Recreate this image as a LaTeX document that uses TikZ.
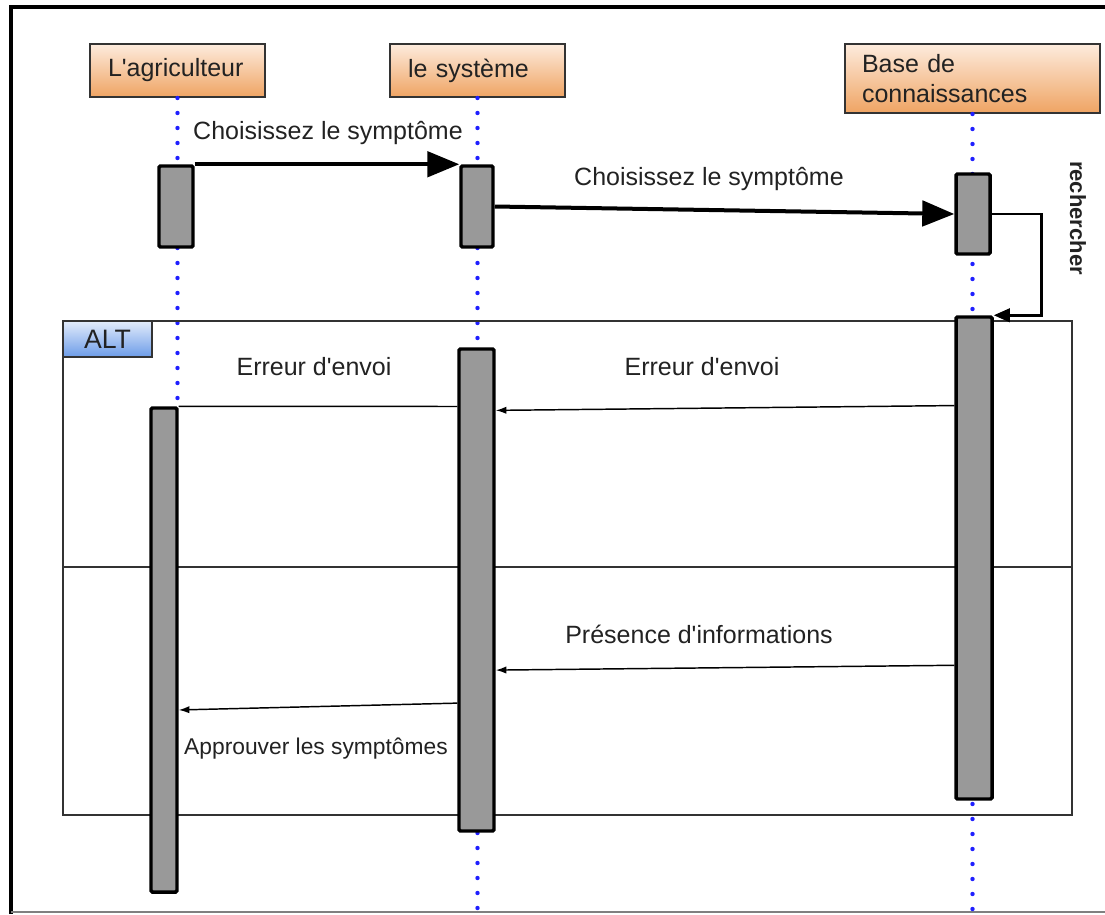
\documentclass[tikz,border=0pt]{standalone}
\usepackage{fontspec}
\setmainfont{Liberation Sans}
\usetikzlibrary{arrows.meta,calc}
\newcommand\pxu{0.75pt}
\newcommand\apo{\textquotesingle}
\definecolor{actortop}{HTML}{FDEBDD}
\definecolor{actorbot}{HTML}{EFA463}
\definecolor{alttop}{HTML}{E3ECFB}
\definecolor{altbot}{HTML}{6C9CE8}
\definecolor{lifeblue}{HTML}{1F1FFF}
\definecolor{actgray}{HTML}{999999}
\definecolor{framegray}{HTML}{333333}
\definecolor{inkgray}{HTML}{222222}
\begin{document}
\begin{tikzpicture}[x=0.75pt,y=-0.75pt,
  font=\fontsize{18.75}{22.5}\selectfont, text=inkgray,
  actor/.style n args={3}{draw=framegray, line width=1.5pt,
    top color=actortop, bottom color=actorbot, inner ysep=0pt,
    inner xsep=13pt, align=left, text width=#1*\pxu,
    minimum width=#2*\pxu, minimum height=#3*\pxu},
  activation/.style n args={2}{draw=black, fill=actgray, line width=2.6pt,
    rounded corners=1pt, inner sep=0pt,
    minimum width=#1*\pxu, minimum height=#2*\pxu},
  lifeline/.style={draw=lifeblue, line width=3.3pt, line cap=round,
    dash pattern=on 0pt off 11.25pt},
  bigmsg/.style={line width=3pt, -{Triangle[length=24pt,width=19pt]}},
  smallmsg/.style={line width=1.1pt, -{Latex[length=8pt,width=5.5pt]}},
  plainmsg/.style={line width=1.1pt},
  msglabel/.style={inner sep=0pt}]

% page extent
\useasboundingbox (0,0) rectangle (1105,914);

% outer frame
\draw[line width=3pt] (11,914) -- (11,7) -- (1105,7);
\draw[line width=1.5pt, draw=gray] (11,912) -- (1105,912);

% participants
\node[actor={139}{175}{53}] (ag) at (177.5,70.5) {L\apo agriculteur};
\node[actor={139}{175}{53}] (sys) at (477.5,70.5) {le système};
\node[actor={221}{255}{69}] (kb) at (972.5,78.5) {Base de\\connaissances};

% activations (positions only; drawn later on top of the lifelines)
\path (176,206.5) coordinate (a1c) (477,206.5) coordinate (s1c)
      (973,214) coordinate (b1c) (974,558) coordinate (b2c)
      (476.5,590) coordinate (s2c) (164,650) coordinate (a2c);

% lifelines
\draw[lifeline] (ag.south) -- (ag.south |- 0,407);
\draw[lifeline] (sys.south) -- (sys.south |- 0,910);
\draw[lifeline] (kb.south) -- (kb.south |- 0,910);

% combined fragment
\node[draw=framegray, line width=1.2pt, minimum width=1009*\pxu,
  minimum height=494*\pxu, inner sep=0pt] (alt) at (567.5,568) {};
\draw[draw=framegray, line width=1.2pt]
  ($(alt.north west)!0.498!(alt.south west)$) coordinate (sepl)
  -- ($(alt.north east)!0.498!(alt.south east)$) coordinate (sepr);
\node[draw=framegray, line width=1.2pt, top color=alttop, bottom color=altbot,
  minimum width=89*\pxu, minimum height=36*\pxu, inner sep=0pt,
  font=\fontsize{20}{24}\selectfont,
  anchor=north west] (alttab) at (alt.north west) {ALT};

% activation bars
\node[activation={34}{81}] (a1) at (a1c) {};
\node[activation={32}{81}] (s1) at (s1c) {};
\node[activation={34}{80}] (b1) at (b1c) {};
\node[activation={36}{482}] (b2) at (b2c) {};
\node[activation={35}{482}] (s2) at (s2c) {};
\node[activation={26}{484}] (a2) at (a2c) {};

% messages
\draw[bigmsg] (a1.north east) -- (s1.north west);
\node[msglabel] (m1) at (328,133) {Choisissez le symptôme};

\draw[bigmsg] (s1.east) -- (b1.west);
\node[msglabel] (m2) at (709,179) {Choisissez le symptôme};

\draw[line width=2pt, -{Triangle[length=12pt,width=10pt]}]
  (b1.east) -- ++(50,0) |- (b2.north east);
\node[msglabel, rotate=-90, font=\fontsize{16.5}{20}\selectfont\bfseries]
  (m3) at (1078,218) {rechercher};

\draw[smallmsg] ($(b2.north west)!0.186!(b2.south west)$)
  -- ($(s2.north east)!0.130!(s2.south east)$);
\node[msglabel] (m4) at (702,367) {Erreur d\apo envoi};

\draw[plainmsg] ($(s2.north west)!0.122!(s2.south west)$) -- (a2.north east);
\node[msglabel] (m5) at (314,367) {Erreur d\apo envoi};

\draw[smallmsg] ($(b2.north west)!0.721!(b2.south west)$)
  -- ($(s2.north east)!0.665!(s2.south east)$);
\node[msglabel] (m6) at (699,634) {Présence d\apo informations};

\draw[smallmsg] ($(s2.north west)!0.733!(s2.south west)$)
  -- ($(a2.north east)!0.623!(a2.south east)$);
\node[msglabel, font=\fontsize{17.1}{20}\selectfont] (m7) at (316,749)
  {Approuver les symptômes};
\end{tikzpicture}
\end{document}
